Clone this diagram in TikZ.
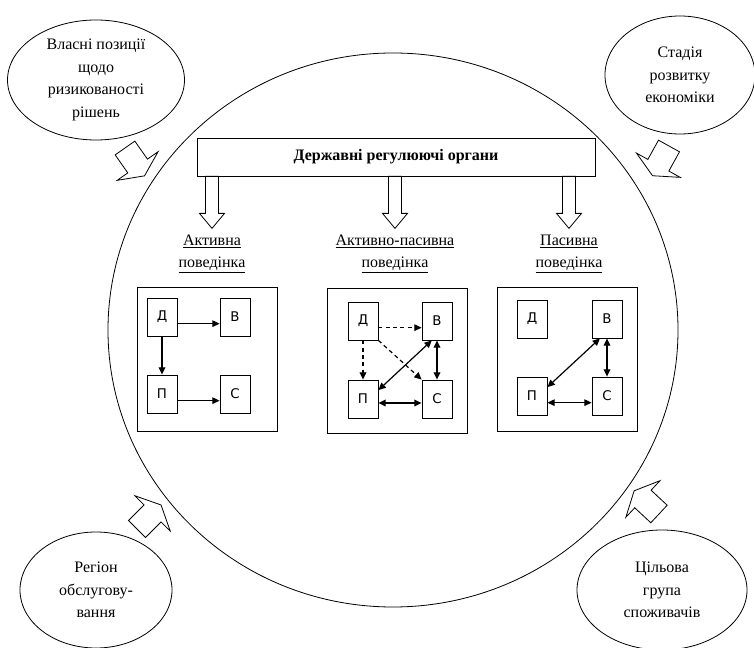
\documentclass[tikz,border=0pt]{standalone}
\usepackage{fontspec}
\setmainfont{Liberation Serif}
\newfontfamily\boxfont{DejaVu Sans}
\usetikzlibrary{arrows.meta, positioning, shapes.geometric}

\tikzset{
  factor/.style={draw, ellipse, align=center, inner sep=0pt, line width=0.6pt},
  panel/.style={draw, line width=0.6pt, minimum width=105pt, minimum height=108.5pt},
  cell/.style={draw, line width=0.6pt, minimum width=22.5pt, minimum height=28.5pt, inner sep=0pt, font=\boxfont\fontsize{10}{12}\selectfont},
  kind/.style={align=center},
  link/.style={line width=0.9pt, -{Triangle[length=5.5pt, width=5pt]}},
  bilink/.style={line width=0.9pt, {Triangle[length=5.5pt, width=5pt]}-{Triangle[length=5.5pt, width=5pt]}},
  weaklink/.style={link, dash pattern=on 3pt off 2.5pt},
  pics/downarrow/.style={code={
    \draw[line width=0.6pt, fill=white] (0,-6.5) -- (37,-6.5) -- (37,-12.5) -- (52,0) -- (37,12.5) -- (37,6.5) -- (0,6.5) -- cycle;}},
  pics/sidearrow/.style={code={
    \draw[line width=0.6pt, fill=white] (0,-12) -- (22,-12) -- (22,-25) -- (34,0) -- (22,25) -- (22,12) -- (0,12) -- cycle;}}
}

\begin{document}
\begin{tikzpicture}[x=0.75pt, y=-0.75pt, font=\fontsize{12}{17}\selectfont]
    \useasboundingbox (0,0) rectangle (754,648);
    % ринок
    \node[factor, minimum width=427.5pt, minimum height=415.5pt] (market) at (393,330) {};
    % зовнішні чинники
    \node[factor, minimum width=132.75pt, minimum height=90pt] (risk) at (96,80)
        {Власні позиції\\щодо\\ризикованості\\рішень};
    \node[factor, minimum width=112.5pt, minimum height=88.5pt] (stage) at (680,75)
        {Стадія\\розвитку\\економіки};
    \node[factor, minimum width=114pt, minimum height=87pt] (region) at (96,590)
        {Регіон\\обслугову-\\вання};
    \node[factor, minimum width=127.5pt, minimum height=90pt] (target) at (662,590)
        {Цільова\\група\\споживачів};
    \pic[rotate=-55] at (125,148) {sidearrow};
    \pic[rotate=-119] at (669,146) {sidearrow};
    \pic[rotate=45] at (137,529) {sidearrow};
    \pic[rotate=137] at (659,514) {sidearrow};
    % регулятор
    \node[draw, line width=0.6pt, minimum width=298.5pt, minimum height=28.5pt] (regul) at (396,157)
        {\textbf{Державні регулюючі органи}};
    % типи поведінки
    \node[kind] (lact) at (212,254) {\underline{Активна}\\\underline{поведінка}};
    \node[kind] (lmix) at (395,254) {\underline{Активно-пасивна}\\\underline{поведінка}};
    \node[kind] (lpas) at (569,254) {\underline{Пасивна}\\\underline{поведінка}};
    \foreach \l in {lact, lmix, lpas} {
        \pic[rotate=-90] at (\l |- regul.south) {downarrow};
    }
    % активна
    \node[panel] (pact) at (207.5,359.5) {};
    \foreach \n/\t/\x/\y in {d/Д/162/317, v/В/235/317, p/П/162/394, s/С/235/394} {
        \node[cell] (a\n) at (\x,\y) {\t};
    }
    \draw[link] ([yshift=-5pt]ad.east) -- ([yshift=-5pt]av.west);
    \draw[link] (ad.south) -- (ap.north);
    \draw[link] ([yshift=-5pt]ap.east) -- ([yshift=-5pt]as.west);
    % активно-пасивна
    \node[panel] (pmix) at (397,361) {};
    \foreach \n/\t/\x/\y in {d/Д/363/321, v/В/437/321, p/П/363/399, s/С/437/399} {
        \node[cell] (b\n) at (\x,\y) {\t};
    }
    \draw[weaklink] ([yshift=-5pt]bd.east) -- ([yshift=-5pt]bv.west);
    \draw[weaklink] (bd.south) -- (bp.north);
    \draw[weaklink] (bd.south east) -- (bs.north west);
    \draw[bilink] (bv.255) -- (bp.30);
    \draw[bilink] (bv.south) -- (bs.north);
    \draw[bilink] ([yshift=-3pt]bp.east) -- ([yshift=-3pt]bs.west);
    % пасивна
    \node[panel] (ppas) at (567,359.5) {};
    \foreach \n/\t/\x/\y in {d/Д/532/319, v/В/607/319, p/П/532/396, s/С/607/396} {
        \node[cell] (c\n) at (\x,\y) {\t};
    }
    \draw[bilink] (cv.250) -- (cp.30);
    \draw[bilink] (cv.south) -- (cs.north);
    \draw[bilink] ([yshift=-5pt]cp.east) -- ([yshift=-5pt]cs.west);
\end{tikzpicture}
\end{document}
